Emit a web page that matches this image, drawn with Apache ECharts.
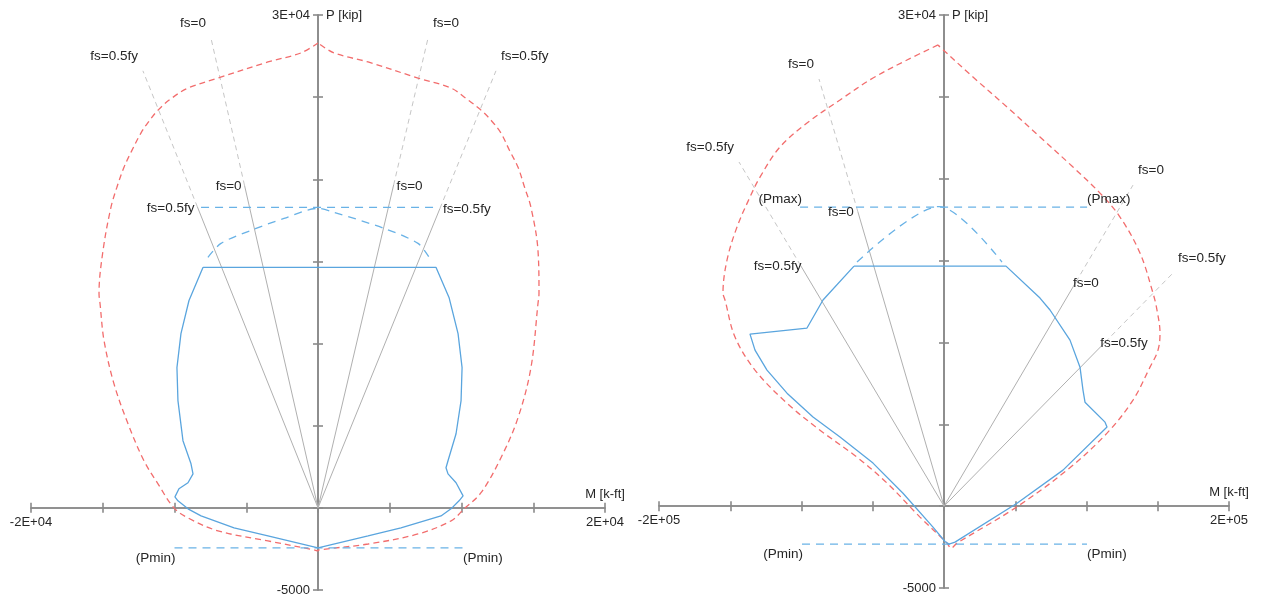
<!DOCTYPE html>
<html><head><meta charset="utf-8">
<script src="https://cdn.jsdelivr.net/npm/echarts@6/dist/echarts.min.js"></script>
<style>html,body{margin:0;padding:0;background:#fff}#c{width:1262px;height:602px}</style>
</head><body><div id="c"></div>
<script>
// ---------------- DATA: left panel ----------------
const leftXRange = [-20000, 20000];
const leftYRange = [-5000, 30000];
const leftXTicks = ['-2E+04', '2E+04'];
const leftYTicks = ['-5000', '3E+04'];
const leftNominal = [[0,28300],[-1190,27690],[-3490,27140],[-6970,26160],[-9060,25550],[-10250,24900],[-11150,24210],[-11850,23450],[-12340,22810],[-13000,21700],[-13520,20730],[-14020,19500],[-14430,18290],[-14980,15670],[-15260,13050],[-15190,12440],[-14910,10180],[-14220,7560],[-13240,5120],[-12130,2870],[-11150,1460],[-10040,0],[-9060,-610],[-6970,-1400],[-3490,-2010],[-280,-2560],[0,-2620],[70,-2560],[3490,-2200],[6970,-1590],[9270,-790],[10180,-60],[11360,920],[12750,3050],[13940,5490],[14840,8540],[15330,12440],[15400,13050],[15330,15670],[14840,18290],[14400,19500],[13940,20730],[13350,21750],[12750,22810],[12100,23550],[11360,24210],[10350,24900],[9270,25550],[6970,26160],[3490,27140],[1120,27690],[0,28300]];
const leftDesign = [[-8010,14640],[8220,14640],[9130,12810],[9760,10610],[10040,8540],[9970,6530],[9620,4510],[9060,2870],[8920,2440],[9060,2070],[9620,1530],[10110,730],[9830,430],[9270,-60],[8570,-490],[5780,-1220],[3490,-1710],[0,-2440],[-3490,-1710],[-5850,-1220],[-8150,-490],[-9060,-60],[-9760,430],[-9970,670],[-9690,1160],[-9060,1530],[-8710,2070],[-8850,2680],[-9410,4090],[-9760,6530],[-9830,8540],[-9550,10610],[-8990,12620],[-8010,14640]];
const leftReduced = [[-7670,15250],[-6760,16100],[-4670,16890],[-2370,17620],[0,18230],[1120,17990],[4600,17010],[6970,16100],[7740,15250]];
const leftPmax = [[-8150,18290],[8360,18290]];
const leftPmin = [[-10000,-2440],[10100,-2440]];
const leftRayOuter = [[-12200,26600],[-7460,28600],[7670,28600],[12400,26600]];
const leftRayInner = [[-8400,18310],[-5120,19630],[5270,19650],[8500,18230]];
const leftRayNames = ['fs=0.5fy','fs=0','fs=0','fs=0.5fy'];
const leftEndNames = ['(Pmin)','(Pmin)'];

// ---------------- DATA: right panel ----------------
const rightXRange = [-200000, 200000];
const rightYRange = [-5000, 30000];
const rightXTicks = ['-2E+05', '2E+05'];
const rightYTicks = ['-5000', '3E+04'];
const rightNominal = [[-4200,28170],[-25970,27250],[-49820,26150],[-72980,24810],[-96140,23400],[-115090,21940],[-129120,20100],[-136140,18880],[-145260,17050],[-152280,15030],[-155090,13010],[-153680,12590],[-146670,10330],[-132630,8310],[-110180,6290],[-87020,4640],[-61050,2990],[-40000,1410],[-16840,-670],[2100,-2260],[4900,-2570],[9120,-2260],[49820,-120],[86320,2200],[114390,4460],[132630,6480],[144560,8490],[150180,9530],[151580,10570],[149470,11980],[146670,13010],[137540,15460],[123510,17660],[109470,19120],[90530,20710],[67370,22550],[44210,24380],[20350,26210],[-2810,28050],[-4200,28170]];
const rightDesign = [[-63160,14660],[-84910,12590],[-96140,10880],[-136140,10510],[-132630,9530],[-124210,8310],[-110170,6900],[-91930,5440],[-72980,4220],[-49820,2630],[-28770,790],[-7720,-1280],[700,-2160],[3500,-2320],[7720,-2200],[51230,180],[83510,2200],[114390,4830],[113000,5130],[98950,6350],[97540,7090],[95440,8490],[88420,10140],[74390,11980],[67370,12710],[43510,14660],[-63160,14660]];
const rightReduced = [[-61050,14910],[-3510,18300],[40700,14910]];
const rightPmax = [[-101000,18270],[100400,18270]];
const rightPmin = [[-99650,-2320],[100350,-2320]];
const rightRayOuter = [[-143860,21020],[-87720,26090],[132630,19610],[160700,14240]];
const rightRayInner = [[-100700,14710],[-60500,18000],[92580,13690],[113130,10020]];
const rightRayNames = ['fs=0.5fy','fs=0','fs=0','fs=0.5fy'];
const rightPmaxNames = ['(Pmax)','(Pmax)'];
const rightEndNames = ['(Pmin)','(Pmin)'];

// ---------------- STYLE ----------------
const AX = '#8a8a8a', TXT = '#262626', RED = '#f26d6d', BLUE = '#5aa5de', BLUE_D = '#69b2e6';
const GRAY = '#b0b0b0', GRAY_D = '#c6c6c6';
const FONT = 'Liberation Sans, Arial, sans-serif';
// horizontal nudges (px) for the inner ray labels, per panel
const leftInnerNudge = [0, 0, 0, 0];
const rightInnerNudge = [4, -1, -6, -8];

function makeAxes(gi, xr, yr, xInt, yInt, xBase, yBase) {
  const xa = [], ya = [];
  const line = {color: AX, width: 1.6};
  [0,1].forEach(k => {
    xa.push({
      gridIndex: gi, type: 'value', min: xr[0], max: xr[1], interval: xInt,
      position: k === 0 ? 'bottom' : 'top',
      axisLine: {show: true, onZero: true, onZeroAxisIndex: yBase, lineStyle: line},
      axisTick: {show: true, length: 5, lineStyle: line},
      axisLabel: {show: false},
      splitLine: {show: false},
      name: k === 0 ? 'M [k-ft]' : '', nameLocation: 'end', nameGap: 0,
      nameTextStyle: {align: 'center', verticalAlign: 'bottom', padding: [0,0,7,0], color: TXT, fontSize: 13, fontFamily: FONT}
    });
    ya.push({
      gridIndex: gi, type: 'value', min: yr[0], max: yr[1], interval: yInt,
      position: k === 0 ? 'left' : 'right',
      axisLine: {show: true, onZero: true, onZeroAxisIndex: xBase, lineStyle: line},
      axisTick: {show: true, length: 5, lineStyle: line},
      axisLabel: {show: false},
      splitLine: {show: false},
      name: k === 0 ? 'P [kip]' : '', nameLocation: 'end', nameGap: 0,
      nameTextStyle: {align: 'left', verticalAlign: 'middle', padding: [0,0,0,8], color: TXT, fontSize: 13, fontFamily: FONT}
    });
  });
  return {xa, ya};
}

function lineSeries(ai, data, color, width, type, smooth, z) {
  return {type: 'line', xAxisIndex: ai.x, yAxisIndex: ai.y, data: data, symbol: 'none', showSymbol: false,
    smooth: smooth, lineStyle: {color: color, width: width, type: type}, silent: true, animation: false, z: z};
}

function labelSeries(ai, items, size) {
  return {type: 'scatter', xAxisIndex: ai.x, yAxisIndex: ai.y, symbolSize: 0, silent: true, animation: false, z: 20, clip: false,
    itemStyle: {opacity: 1},
    label: {show: true, formatter: '{b}', color: TXT, fontSize: size, fontFamily: FONT, opacity: 1},
    data: items};
}

function panel(ai, xr, yr, xTicks, yTicks, nominal, design, reduced, pmax, pmin, rayOuter, rayInner, rayNames, pmaxNames, pminNames, nudge) {
  const s = [];
  s.push(lineSeries(ai, nominal, RED, 1.3, [6,4], 0.35, 5));
  s.push(lineSeries(ai, reduced, BLUE_D, 1.3, [8,6], 0.3, 5));
  s.push(lineSeries(ai, pmax, BLUE_D, 1.3, [8,6], false, 5));
  s.push(lineSeries(ai, pmin, BLUE_D, 1.3, [8,6], false, 5));
  s.push(lineSeries(ai, design, BLUE, 1.3, 'solid', false, 6));
  const labels = [];
  rayOuter.forEach((o, i) => {
    const inn = rayInner[i];
    s.push(lineSeries(ai, [[0,0], inn], GRAY, 1, 'solid', false, 3));
    s.push(lineSeries(ai, [inn, o], GRAY_D, 1, [5,4], false, 3));
    const side = o[0] < 0 ? 'left' : 'right';
    labels.push({name: rayNames[i], value: o, label: {position: side, distance: 5, offset: [0, -15]}});
    labels.push({name: rayNames[i], value: inn, label: {position: side, distance: 3, offset: [nudge[i], 1]}});
  });
  if (pmaxNames) {
    labels.push({name: pmaxNames[0], value: pmax[0], label: {position: 'left', distance: 0, offset: [2, -8]}});
    labels.push({name: pmaxNames[1], value: pmax[1], label: {position: 'right', distance: 0, offset: [0, -8]}});
  }
  labels.push({name: pminNames[0], value: pmin[0], label: {position: 'left', distance: 0, offset: [1, 10]}});
  labels.push({name: pminNames[1], value: pmin[1], label: {position: 'right', distance: 0, offset: [0, 10]}});
  s.push(labelSeries(ai, labels, 13.5));
  // axis end tick labels, anchored at the axis ends
  const tickLabels = [
    {name: xTicks[0], value: [xr[0], 0], label: {position: 'bottom', distance: 8}},
    {name: xTicks[1], value: [xr[1], 0], label: {position: 'bottom', distance: 8}},
    {name: yTicks[0], value: [0, yr[0]], label: {position: 'left', distance: 8}},
    {name: yTicks[1], value: [0, yr[1]], label: {position: 'left', distance: 8}}
  ];
  s.push(labelSeries(ai, tickLabels, 13));
  return s;
}

const A0 = makeAxes(0, leftXRange, leftYRange, 5000, 5000, 0, 0);
const A1 = makeAxes(1, rightXRange, rightYRange, 50000, 5000, 2, 2);

const option = {
  backgroundColor: '#fff',
  animation: false,
  textStyle: {fontFamily: FONT},
  grid: [
    {left: 31, top: 15, width: 574, height: 575, containLabel: false, outerBoundsMode: 'none'},
    {left: 659, top: 15, width: 570, height: 573, containLabel: false, outerBoundsMode: 'none'}
  ],
  xAxis: A0.xa.concat(A1.xa),
  yAxis: A0.ya.concat(A1.ya),
  series: panel({x:0, y:0}, leftXRange, leftYRange, leftXTicks, leftYTicks, leftNominal, leftDesign, leftReduced, leftPmax, leftPmin, leftRayOuter, leftRayInner, leftRayNames, null, leftEndNames, leftInnerNudge)
    .concat(panel({x:2, y:2}, rightXRange, rightYRange, rightXTicks, rightYTicks, rightNominal, rightDesign, rightReduced, rightPmax, rightPmin, rightRayOuter, rightRayInner, rightRayNames, rightPmaxNames, rightEndNames, rightInnerNudge))
};
const chart = echarts.init(document.getElementById('c'));
chart.setOption(option);
</script></body></html>
